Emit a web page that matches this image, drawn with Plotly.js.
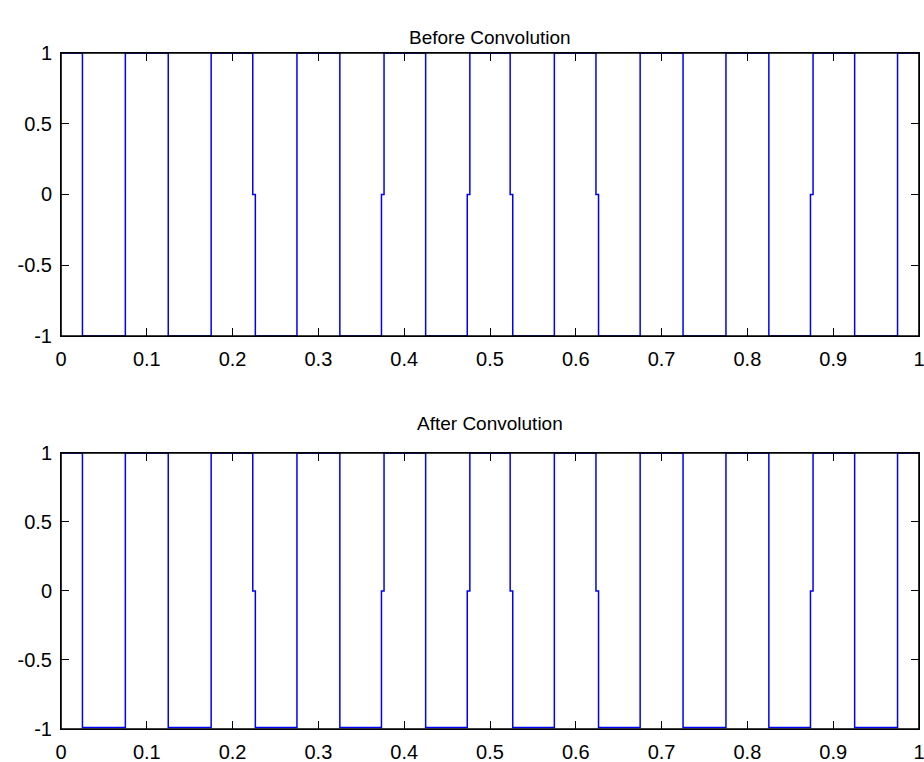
<!DOCTYPE html>
<html>
<head>
<meta charset="utf-8">
<script src="https://cdn.plot.ly/plotly-3.0.1.min.js"></script>
<style>
  html, body { margin: 0; padding: 0; background: #ffffff; }
  #chart { width: 924px; height: 762px; }
</style>
</head>
<body>
<div id="chart"></div>
<script>
// ---- data ----
const titles = ["Before Convolution", "After Convolution"];

const xTickVals = [0, 0.1, 0.2, 0.3, 0.4, 0.5, 0.6, 0.7, 0.8, 0.9, 1];
const xTickText = ["0", "0.1", "0.2", "0.3", "0.4", "0.5", "0.6", "0.7", "0.8", "0.9", "1"];
const yTickVals = [-1, -0.5, 0, 0.5, 1];
const yTickText = ["-1", "-0.5", "0", "0.5", "1"];

// Before convolution: square wave samples (vertices of the polyline)
const beforeX = [
  0, 0.025, 0.025, 0.075, 0.075, 0.125, 0.125, 0.175, 0.175,
  0.2235, 0.2235, 0.2265, 0.2265,
  0.275, 0.275, 0.325, 0.325,
  0.3735, 0.3735, 0.3765, 0.3765,
  0.425, 0.425,
  0.4735, 0.4735, 0.4765, 0.4765,
  0.5235, 0.5235, 0.5265, 0.5265,
  0.575, 0.575,
  0.6235, 0.6235, 0.6265, 0.6265,
  0.675, 0.675, 0.725, 0.725, 0.775, 0.775, 0.825, 0.825,
  0.8735, 0.8735, 0.8765, 0.8765,
  0.925, 0.925, 0.975, 0.975, 1
];
const beforeY = [
  1, 1, -1, -1, 1, 1, -1, -1, 1,
  1, 0, 0, -1,
  -1, 1, 1, -1,
  -1, 0, 0, 1,
  1, -1,
  -1, 0, 0, 1,
  1, 0, 0, -1,
  -1, 1,
  1, 0, 0, -1,
  -1, 1, 1, -1, -1, 1, 1, -1,
  -1, 0, 0, 1,
  1, -1, -1, 1, 1
];

// After convolution
const afterX = [
  0, 0.025, 0.025, 0.075, 0.075, 0.125, 0.125, 0.175, 0.175,
  0.2235, 0.2235, 0.2265, 0.2265,
  0.275, 0.275, 0.325, 0.325,
  0.3735, 0.3735, 0.3765, 0.3765,
  0.425, 0.425,
  0.4735, 0.4735, 0.4765, 0.4765,
  0.5235, 0.5235, 0.5265, 0.5265,
  0.575, 0.575,
  0.6235, 0.6235, 0.6265, 0.6265,
  0.675, 0.675, 0.725, 0.725, 0.775, 0.775, 0.825, 0.825,
  0.8735, 0.8735, 0.8765, 0.8765,
  0.925, 0.925, 0.975, 0.975, 1
];
const afterY = [
  1, 1, -0.99, -0.99, 1, 1, -0.99, -0.99, 1,
  1, 0, 0, -0.99,
  -0.99, 1, 1, -0.99,
  -0.99, 0, 0, 1,
  1, -0.99,
  -0.99, 0, 0, 1,
  1, 0, 0, -0.99,
  -0.99, 1,
  1, 0, 0, -0.99,
  -0.99, 1, 1, -0.99, -0.99, 1, 1, -0.99,
  -0.99, 0, 0, 1,
  1, -0.99, -0.99, 1, 1
];

// ---- figure ----
const FONT = "Liberation Sans, Arial, Helvetica, sans-serif";
const lineStyle = { color: "#0000ff", width: 1.5 };

const traces = [
  { x: beforeX, y: beforeY, type: "scatter", mode: "lines", line: lineStyle,
    xaxis: "x", yaxis: "y", hoverinfo: "x+y", showlegend: false },
  { x: afterX, y: afterY, type: "scatter", mode: "lines", line: lineStyle,
    xaxis: "x2", yaxis: "y2", hoverinfo: "x+y", showlegend: false }
];

function xAxis(anchor) {
  return {
    anchor: anchor, domain: [0, 1], range: [0, 1],
    tickmode: "array", tickvals: xTickVals, ticktext: xTickText,
    ticks: "inside", ticklen: 8, tickwidth: 1, tickcolor: "#000",
    showline: true, linecolor: "#000", linewidth: 1, mirror: "ticks",
    showgrid: false, zeroline: false, ticklabelstandoff: 5,
    ticklabeloverflow: "allow",
    tickfont: { family: FONT, size: 20, color: "#000" }
  };
}
function yAxis(anchor, domain) {
  return {
    anchor: anchor, domain: domain, range: [-1, 1],
    tickmode: "array", tickvals: yTickVals, ticktext: yTickText,
    ticks: "inside", ticklen: 8, tickwidth: 1, tickcolor: "#000",
    showline: true, linecolor: "#000", linewidth: 1, mirror: "ticks",
    showgrid: false, zeroline: false, ticklabelstandoff: 4,
    ticklabeloverflow: "allow",
    tickfont: { family: FONT, size: 20, color: "#000" }
  };
}

function frame(xr, yr) {
  return { type: "rect", xref: xr + " domain", yref: yr + " domain",
           x0: 0, x1: 1, y0: 0, y1: 1, layer: "above",
           line: { color: "#000", width: 1.6 }, fillcolor: "rgba(0,0,0,0)" };
}

const layout = {
  width: 924, height: 762,
  margin: { l: 61, r: 5, t: 53, b: 33, pad: 0 },
  paper_bgcolor: "#ffffff", plot_bgcolor: "#ffffff",
  showlegend: false,
  xaxis: xAxis("y"),
  yaxis: yAxis("x", [0.5814, 1]),
  xaxis2: xAxis("y2"),
  yaxis2: yAxis("x2", [0, 0.4083]),
  shapes: [frame("x", "y"), frame("x2", "y2")],
  annotations: [
    { text: titles[0], xref: "paper", yref: "paper", x: 0.5, y: 1.0222,
      xanchor: "center", yanchor: "middle", showarrow: false,
      font: { family: FONT, size: 19, color: "#000" } },
    { text: titles[1], xref: "paper", yref: "paper", x: 0.5, y: 0.4512,
      xanchor: "center", yanchor: "middle", showarrow: false,
      font: { family: FONT, size: 19, color: "#000" } }
  ]
};

Plotly.newPlot("chart", traces, layout, { displayModeBar: false, staticPlot: true });
</script>
</body>
</html>
